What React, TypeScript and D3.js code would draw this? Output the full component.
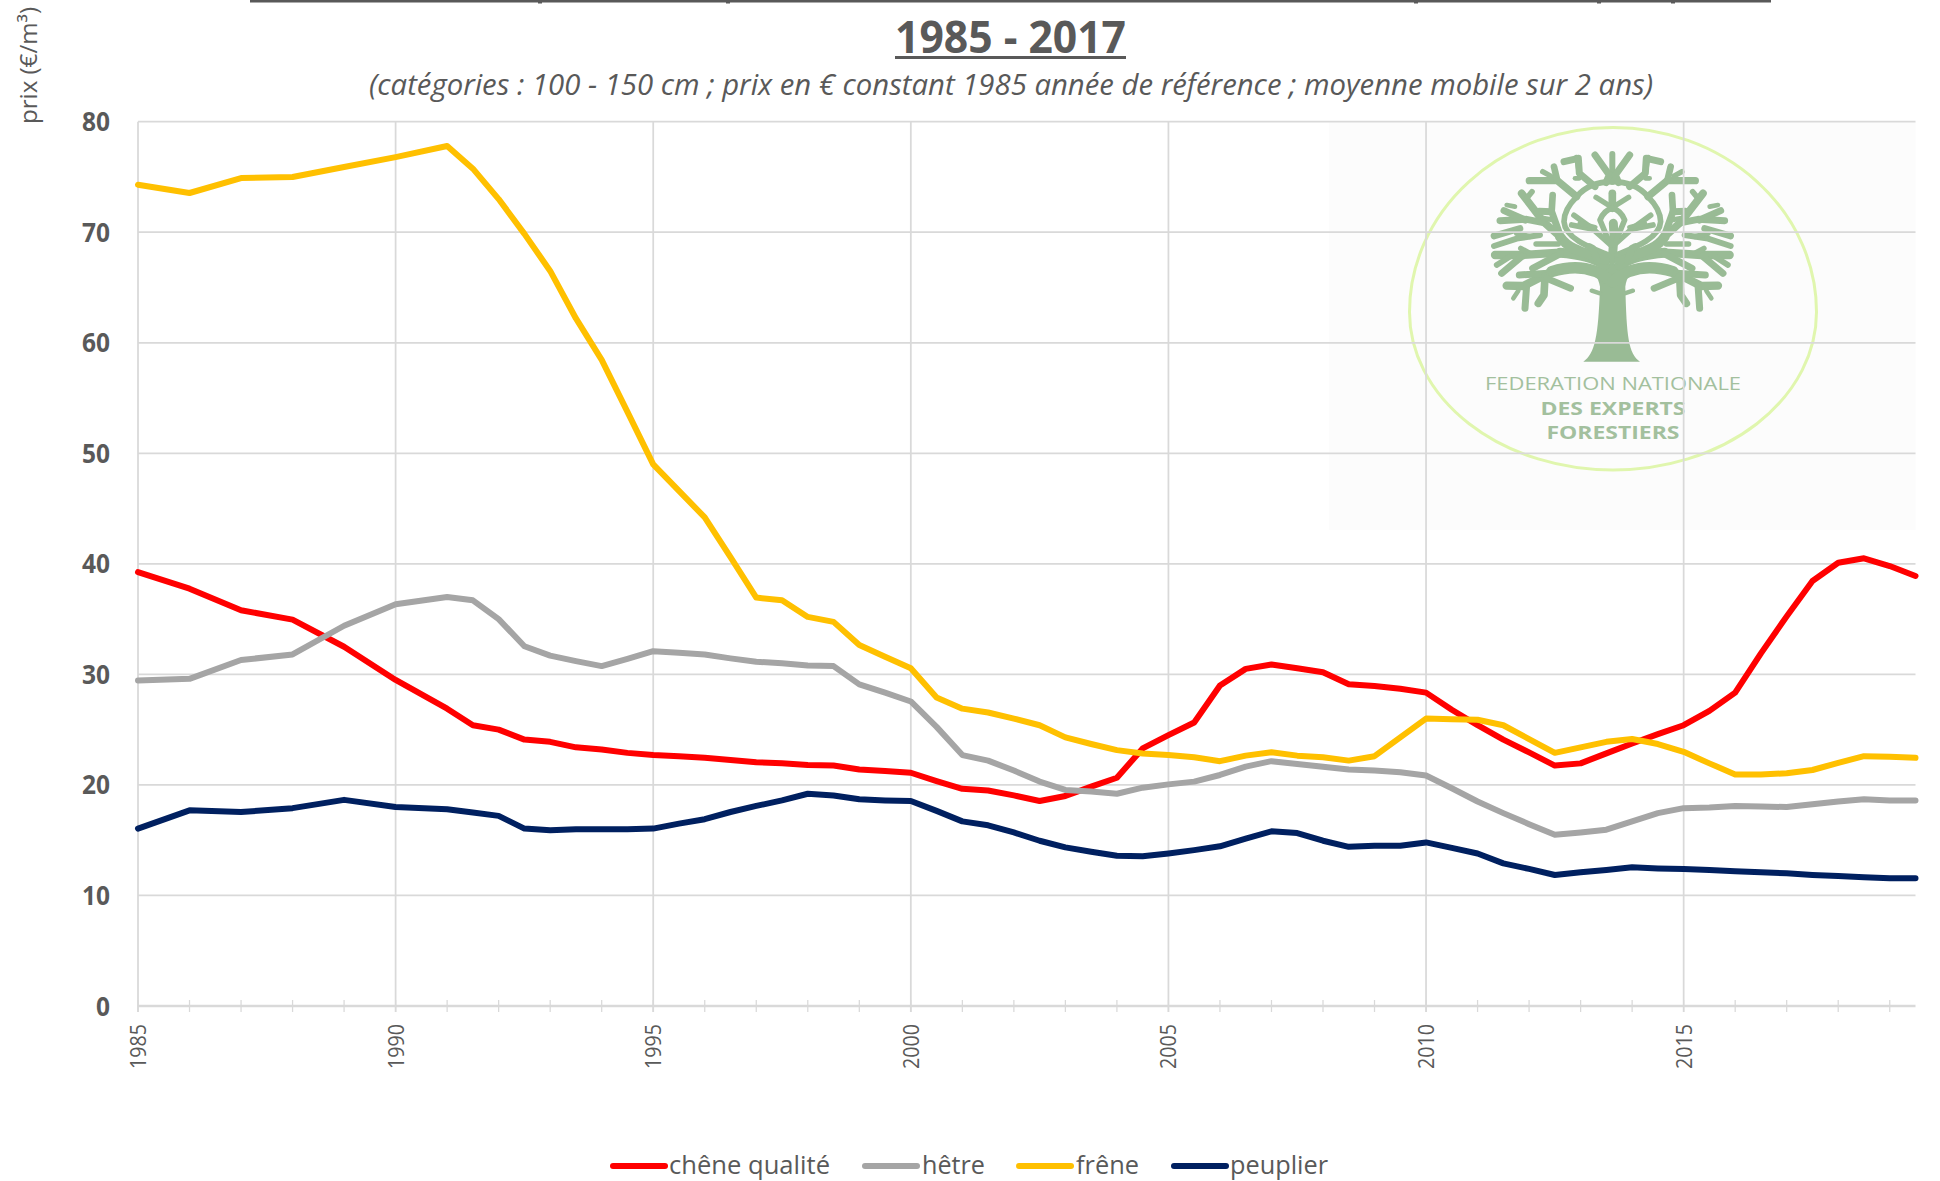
import React from "react";
import * as d3 from "d3";

const years = [1985,1986,1987,1988,1989,1990,1991,
  1991.5,1992,1992.5,1993,1993.5,1994,1994.5,1995,
  1995.5,1996,1996.5,1997,1997.5,1998,1998.5,1999,1999.5,2000,
  2000.5,2001,2001.5,2002,2002.5,2003,2003.5,2004,2004.5,2005,
  2005.5,2006,2006.5,2007,2007.5,2008,2008.5,2009,2009.5,2010,
  2010.5,2011,2011.5,2012,2012.5,2013,2013.5,2014,2014.5,2015,
  2015.5,2016,2016.5,2017,2017.5,2018,2018.5,2019,2019.5];

const chene = [39.25,37.75,35.8,34.95,32.5,29.5,26.9,
  25.4,25,24.1,23.9,23.4,23.2,22.9,22.7,
  22.6,22.45,22.25,22.05,21.95,21.8,21.75,21.4,21.25,21.1,
  20.35,19.65,19.5,19.05,18.55,19,19.85,20.65,23.3,24.5,
  25.65,29,30.5,30.9,30.55,30.2,29.1,28.95,28.7,28.35,
  26.8,25.4,24.1,22.95,21.75,21.95,22.85,23.75,24.6,25.4,
  26.7,28.35,31.9,35.25,38.45,40.1,40.5,39.8,38.9];
const hetre = [29.45,29.6,31.3,31.8,34.4,36.35,37,
  36.7,35,32.55,31.7,31.2,30.75,31.4,32.1,
  31.95,31.8,31.45,31.15,31,30.8,30.75,29.1,28.35,27.55,
  25.25,22.7,22.2,21.3,20.3,19.55,19.4,19.2,19.75,20.05,
  20.3,20.9,21.65,22.15,21.9,21.65,21.4,21.3,21.15,20.85,
  19.7,18.5,17.45,16.45,15.5,15.7,15.95,16.7,17.45,17.9,
  17.95,18.1,18.05,18,18.25,18.5,18.7,18.6,18.6];
const frene = [74.3,73.55,74.9,75,75.9,76.8,77.8,
  75.75,73,69.85,66.5,62.2,58.45,53.75,49,
  46.6,44.2,40.6,36.95,36.7,35.2,34.75,32.65,31.6,30.55,
  27.9,26.9,26.55,26,25.4,24.3,23.7,23.15,22.85,22.7,
  22.5,22.15,22.65,22.95,22.65,22.5,22.2,22.6,24.3,26,
  25.95,25.9,25.4,24.15,22.9,23.4,23.9,24.15,23.7,23,
  21.95,20.95,20.95,21.05,21.35,22,22.6,22.55,22.45];
const peuplier = [16.05,17.7,17.55,17.9,18.65,18,17.8,
  17.5,17.2,16.05,15.9,16,16,16,16.05,
  16.5,16.9,17.55,18.1,18.6,19.2,19.05,18.7,18.6,18.55,
  17.65,16.7,16.35,15.7,14.95,14.35,13.95,13.6,13.55,13.8,
  14.1,14.45,15.15,15.8,15.65,14.95,14.4,14.5,14.5,14.8,
  14.3,13.8,12.9,12.4,11.85,12.1,12.3,12.55,12.45,12.4,
  12.3,12.2,12.1,12,11.85,11.75,11.65,11.55,11.55];

const seriesNames = ["chêne qualité", "hêtre", "frêne", "peuplier"];
const seriesColors = ["#FF0000", "#A5A5A5", "#FFC000", "#002060"];
const seriesValues = [chene, hetre, frene, peuplier];

const yTicks = [0,10,20,30,40,50,60,70,80];
const xMajor = [1985,1990,1995,2000,2005,2010,2015];
const xMinor = d3.range(1985, 2020);

const titleText = "1985 - 2017";
const subtitleText = "(catégories : 100 - 150 cm ; prix en € constant 1985 année de référence ; moyenne mobile sur 2 ans)";
const yAxisLabel = "prix (€/m³)";

const TEXT = "#595959";
const GRID = "#D9D9D9";
const TREE = "#99BB95";
const FONT = "'Open Sans', sans-serif";

// Logo branches (left half, mirrored around the trunk), in logo-local units: [width, path]
const branchesLeft: [number, string][] = [
  [34, "M395 425 C350 385 290 372 215 395"],
  [25, "M215 395 L130 438 L80 437"],
  [21, "M205 400 L118 405"],
  [23, "M195 410 L192 465 L175 490"],
  [20, "M200 415 L272 445"],
  [21, "M140 435 L135 505"],
  [14, "M115 452 L100 475"],
  [30, "M375 375 C340 352 300 342 240 338"],
  [25, "M240 338 L130 345 L45 345"],
  [21, "M130 345 L65 400"],
  [17, "M90 350 L50 375"],
  [21, "M240 342 L158 385"],
  [16, "M150 340 L122 325"],
  [30, "M375 360 C330 340 270 335 240 290"],
  [23, "M240 290 L190 245 L125 160"],
  [21, "M190 248 L140 238 L60 242"],
  [21, "M135 240 L72 212"],
  [17, "M140 175 L156 155"],
  [14, "M105 200 L80 195"],
  [20, "M120 265 L42 288"],
  [18, "M180 285 L110 296 L42 318"],
  [16, "M235 312 L168 312"],
  [16, "M150 290 L110 280"],
  [21, "M240 285 L215 215 L178 214"],
  [20, "M215 215 L218 165"],
  [15, "M220 240 L190 235"],
  [17, "M385 345 C350 330 255 300 252 245 C252 210 275 185 290 170"],
  [17, "M290 170 C320 135 360 125 397 125"],
  [22, "M290 170 L232 122 L148 122"],
  [20, "M232 122 L222 80"],
  [16, "M212 108 L188 95"],
  [21, "M345 140 L298 100 L295 55 L252 65"],
  [16, "M298 100 L290 52"],
  [14, "M298 115 L285 115"],
  [21, "M378 128 L388 105 L345 45"],
  [17, "M392 315 L340 268 L282 226"],
  [17, "M340 268 L275 255"],
  [21, "M328 320 L338 325 L352 362"],
  [17, "M385 300 L360 240 C370 215 385 208 397 205"],
  [16, "M385 195 L348 172"],
  [15, "M300 250 L345 262"],
  [13, "M360 460 L335 452"],
];
const branchesCenter: [number, string][] = [
  [18, "M397 125 L397 42"],
  [27, "M397 360 L402 285 L400 250"],
  [23, "M397 205 L397 160"],
];

function mirror(d: string): string {
  return d.replace(/(-?\d+(?:\.\d+)?) (-?\d+(?:\.\d+)?)/g, (_, a, b) => `${794 - +a} ${b}`);
}

const topBarTicks = [538, 726, 1414, 1597, 1671];

export default function App() {
  const x = d3.scaleLinear().domain([1985, 2019.5]).range([138, 1915.5]);
  const y = d3.scaleLinear().domain([0, 80]).range([1006, 121.7]);
  const line = d3.line<number>().x((_, i) => x(years[i])).y((v) => y(v));

  const legend = [
    { lx: 613, tx: 669, w: 161 },
    { lx: 865, tx: 922, w: 63 },
    { lx: 1019, tx: 1076, w: 63 },
    { lx: 1174, tx: 1230, w: 98 },
  ];

  return (
    <svg width={1940} height={1181} style={{ position: "absolute", left: 0, top: 0, display: "block" }} fontFamily={FONT}>
      <rect width={1940} height={1181} fill="#fff" />

      {/* clipped title underline */}
      <rect x={250} y={0} width={1521} height={2.5} fill={TEXT} />
      {topBarTicks.map((t) => <rect key={t} x={t} y={0} width={4} height={3.5} fill={TEXT} />)}

      <text x={1010.5} y={53} textAnchor="middle" fontSize={45} fontWeight={700} fill={TEXT} textLength={231} lengthAdjust="spacingAndGlyphs">{titleText}</text>
      <rect x={895} y={56} width={231} height={3} fill={TEXT} />
      <text x={1011} y={95} textAnchor="middle" fontSize={30} fontStyle="italic" fill={TEXT} textLength={1284} lengthAdjust="spacingAndGlyphs">{subtitleText}</text>
      <text transform="translate(37,124) rotate(-90)" fontSize={24} fill={TEXT} textLength={117} lengthAdjust="spacingAndGlyphs">{yAxisLabel}</text>

      {/* logo */}
      <rect x={1329} y={122} width={586.5} height={408} fill="#FCFCFC" />
      <path d="M1409.5 312 A203.5 184.5 0 0 1 1816.5 312 A203.5 158 0 0 1 1409.5 312 Z" fill="none" stroke="#E0F6AE" strokeWidth={3} />
      <g transform="translate(1480,140) scale(0.3333)" fill="none" stroke={TREE} strokeLinecap="round" strokeLinejoin="round">
        <path d="M310 665 C345 640 355 590 360 440 C355 410 340 395 320 380 L470 380 C455 395 440 410 436 440 C440 590 445 640 480 665 Z" fill={TREE} stroke="none" />
        <path d="M397 430 L345 370 L450 370 Z" fill={TREE} stroke="none" />
        {branchesCenter.map(([w, d], i) => <path key={"c" + i} d={d} strokeWidth={w} />)}
        {branchesLeft.map(([w, d], i) => <path key={"l" + i} d={d} strokeWidth={w} />)}
        {branchesLeft.map(([w, d], i) => <path key={"r" + i} d={mirror(d)} strokeWidth={w} />)}
      </g>
      <text x={1613} y={390} textAnchor="middle" fontSize={19} fill="#A3C09E" textLength={256} lengthAdjust="spacingAndGlyphs">FEDERATION NATIONALE</text>
      <text x={1613} y={415} textAnchor="middle" fontSize={18} fontWeight={700} fill="#A3C09E" textLength={145} lengthAdjust="spacingAndGlyphs">DES EXPERTS</text>
      <text x={1613} y={439} textAnchor="middle" fontSize={18} fontWeight={700} fill="#A3C09E" textLength={133} lengthAdjust="spacingAndGlyphs">FORESTIERS</text>

      {/* grid */}
      {yTicks.map((t) => (
        <line key={t} x1={x(1985)} x2={x(2019.5)} y1={y(t)} y2={y(t)} stroke={GRID} strokeWidth={t === 0 ? 2.5 : 1.75} />
      ))}
      {xMajor.map((t) => (
        <line key={t} x1={x(t)} x2={x(t)} y1={y(80)} y2={1012} stroke={GRID} strokeWidth={1.75} />
      ))}
      {xMinor.map((t) => (
        <line key={t} x1={x(t)} x2={x(t)} y1={1000} y2={1012} stroke={GRID} strokeWidth={1.25} />
      ))}

      {/* axis labels */}
      {yTicks.map((t) => (
        <text key={t} x={110} y={y(t) + 9.5} textAnchor="end" fontSize={26} fontWeight={700} fill={TEXT} textLength={t === 0 ? 14 : 28} lengthAdjust="spacingAndGlyphs">{t}</text>
      ))}
      {xMajor.map((t) => (
        <text key={t} transform={`translate(${x(t) + 8},1069) rotate(-90)`} fontSize={22} fill={TEXT} textLength={45} lengthAdjust="spacingAndGlyphs">{t}</text>
      ))}

      {/* series */}
      {seriesValues.map((v, s) => (
        <path key={s} d={line(v) ?? ""} fill="none" stroke={seriesColors[s]} strokeWidth={6} strokeLinejoin="round" strokeLinecap="round" />
      ))}

      {/* legend */}
      {seriesNames.map((n, i) => (
        <g key={n}>
          <line x1={legend[i].lx} x2={legend[i].lx + 52} y1={1166} y2={1166} stroke={seriesColors[i]} strokeWidth={6} strokeLinecap="round" />
          <text x={legend[i].tx} y={1173.5} fontSize={25.5} fill={TEXT} textLength={legend[i].w} lengthAdjust="spacingAndGlyphs">{n}</text>
        </g>
      ))}
    </svg>
  );
}
